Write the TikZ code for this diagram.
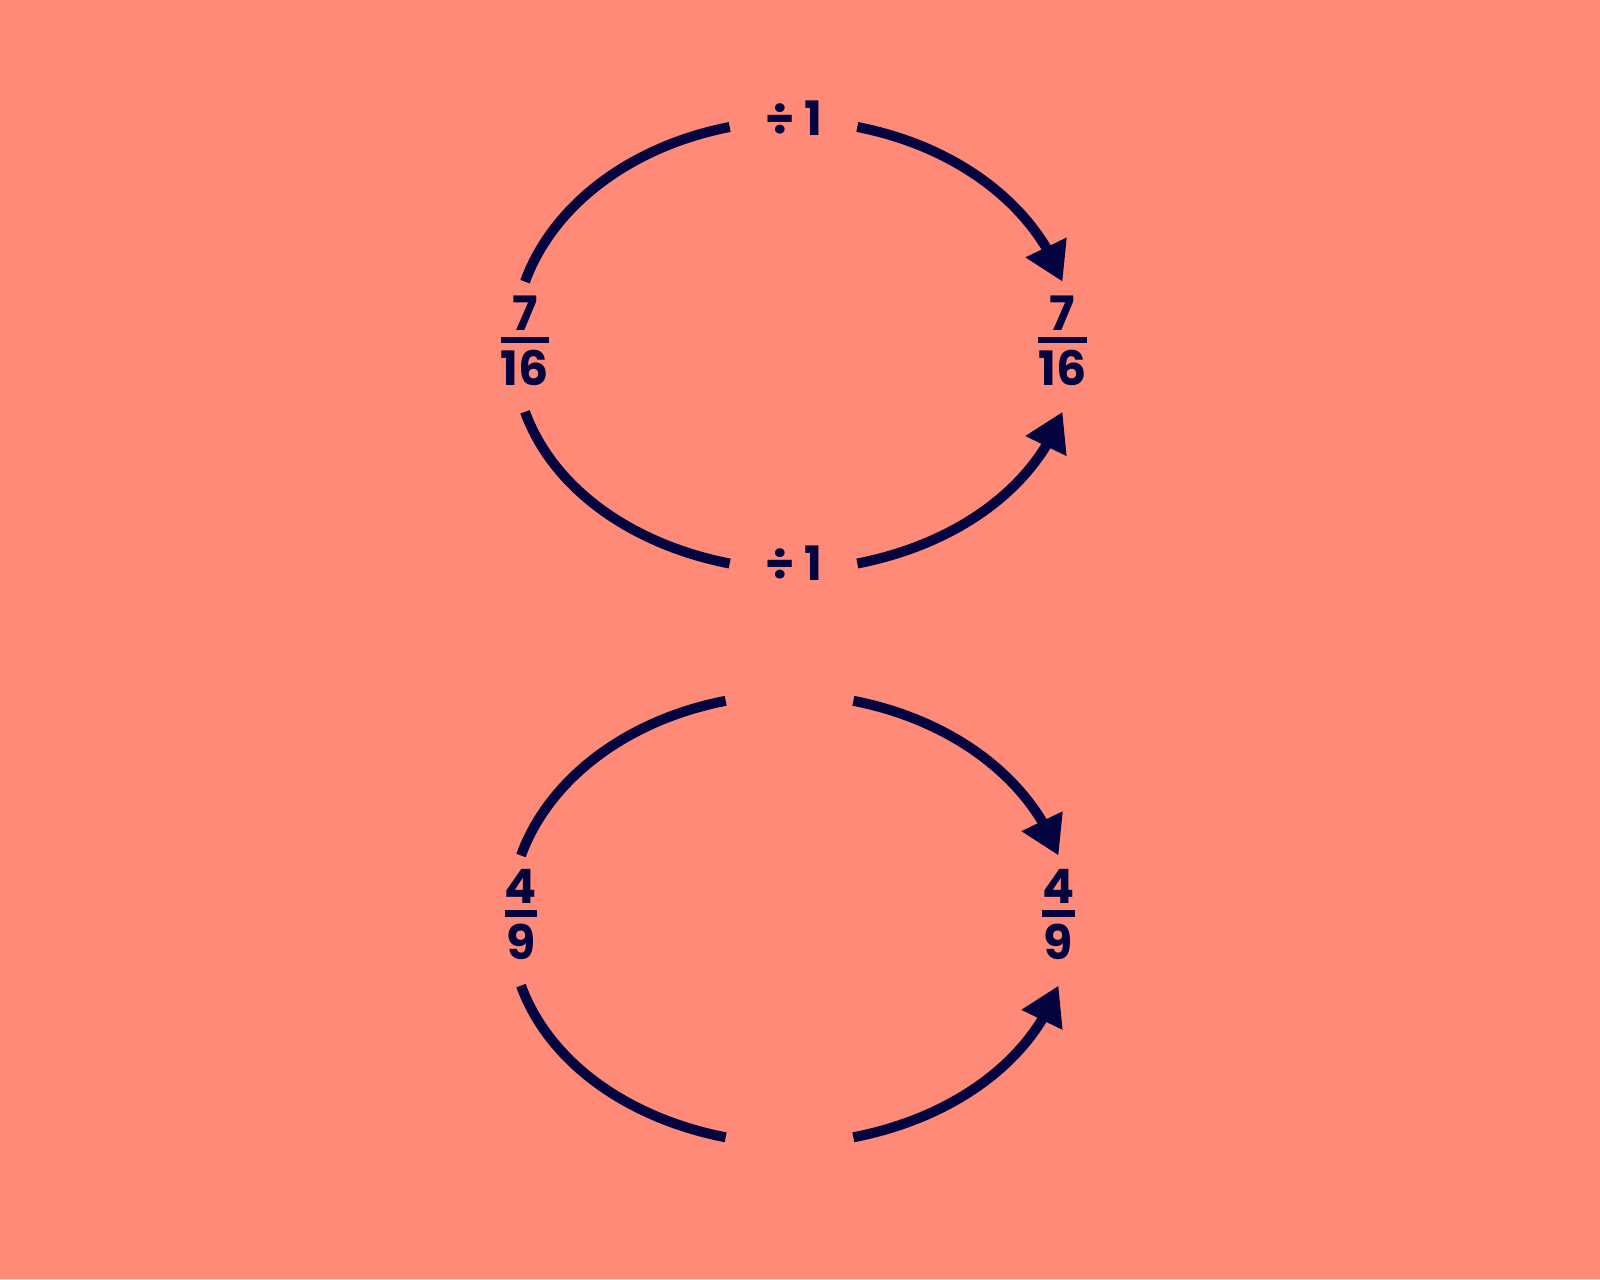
\documentclass[tikz,border=0pt]{standalone}
\usepackage{fontspec}
\setmainfont{Poppins}
\usetikzlibrary{arrows.meta,bending}
\definecolor{salmon}{HTML}{FF8A78}
\definecolor{navy}{HTML}{03033F}
\newcommand{\fr}[2]{$\mbox{#1}\above 3.8pt\mbox{#2}$}

\begin{document}
\begin{tikzpicture}[x=0.02cm,y=0.02cm,>={Triangle[length=0.76cm,width=0.86cm]},
    arcline/.style={line width=0.2cm,color=navy},
    fracnode/.style={font=\fontsize{27}{32}\selectfont\bfseries,text=navy,inner sep=0pt,minimum height=2.34cm},
    opnode/.style={font=\fontsize{27}{32}\selectfont\bfseries,text=navy,inner sep=0pt,minimum width=2.54cm,text height=0.67cm,text depth=0pt}]
        \fill[salmon] (0,0) rectangle (1600,-1279);
        % first pair
        \node[fracnode] (l1) at (525,-340.5) {\fr{7}{16}};
        \node[fracnode] (r1) at (1062.5,-340.5) {\fr{7}{16}};
        \node[opnode,text depth=0.35cm] (t1) at (793.5,-127) {÷\hspace{0.2cm}1};
        \node[opnode] (b1) at (793.5,-563.5) {÷\hspace{0.2cm}1};
        % second pair, gaps left empty
        \node[fracnode] (l2) at (521,-914.3) {\fr{4}{9}};
        \node[fracnode] (r2) at (1058.5,-914.3) {\fr{4}{9}};
        \node[opnode] (t2) at (789.5,-700.8) {};
        \node[opnode] (b2) at (789.5,-1137.3) {};
        \foreach \i in {1,2}{
        \draw[arcline] (l\i.north) to[out=70,in=191,out looseness=.82] (t\i.west);
        \draw[arcline,->] (t\i.east) to[out=-11,in=110,in looseness=.82] (r\i.north);
        \draw[arcline] ([yshift=-.25cm]l\i.south) to[out=-70,in=169,out looseness=.82] (b\i.west);
        \draw[arcline,->] (b\i.east) to[out=11,in=250,in looseness=.82] ([yshift=-.25cm]r\i.south);
        }
\end{tikzpicture}
\end{document}
